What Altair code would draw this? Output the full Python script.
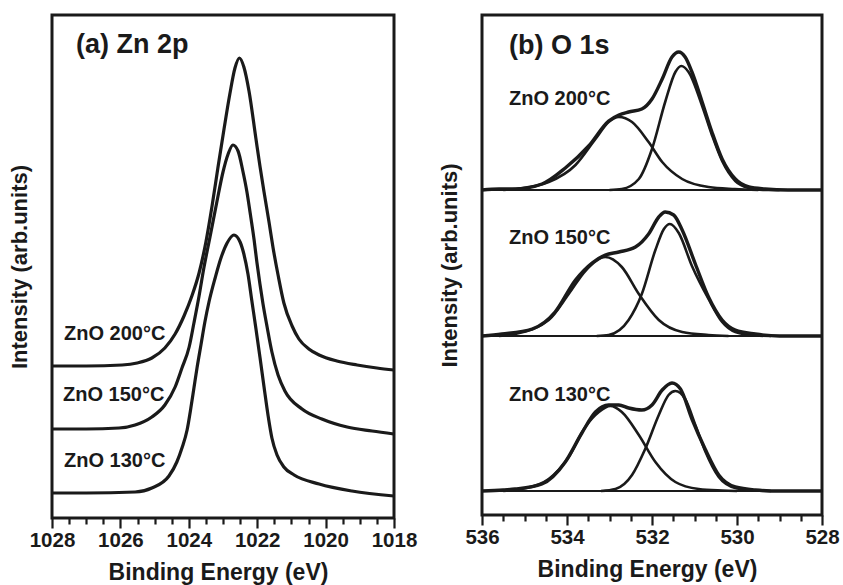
import altair as alt
import pandas as pd

# ---------------- Zn 2p spectra (binding energy eV, intensity arb. units, stacked) ----------------
zn200_E = [1028.0, 1027.0, 1025.95, 1025.51, 1025.08, 1024.70, 1024.40, 1024.14, 1023.91, 1023.70,
           1023.50, 1023.32, 1023.15, 1022.97, 1022.80, 1022.65, 1022.52, 1022.39, 1022.24, 1022.04,
           1021.92, 1021.80, 1021.65, 1021.54, 1021.39, 1021.22, 1020.98, 1020.78, 1020.49, 1020.19,
           1019.67, 1019.08, 1018.50, 1018.0]
zn200_I = [152, 152, 153, 155, 160, 170, 184, 202, 222, 245,
           276, 312, 350, 389, 424, 450, 460, 451, 427, 380,
           352, 326, 295, 271, 243, 215, 192, 179, 169, 163,
           157, 153, 150, 148]

zn150_E = [1028.0, 1027.0, 1026.04, 1025.57, 1025.08, 1024.70, 1024.40, 1024.20, 1023.99, 1023.85,
           1023.70, 1023.56, 1023.38, 1023.18, 1023.00, 1022.85, 1022.71, 1022.56, 1022.42, 1022.30,
           1022.21, 1022.09, 1022.01, 1021.92, 1021.83, 1021.71, 1021.57, 1021.39, 1021.19, 1020.69,
           1020.11, 1019.37, 1018.64, 1018.0]
zn150_I = [89, 89, 90, 93, 101, 113, 131, 150, 171, 195,
           222, 250, 281, 316, 346, 364, 373, 367, 347, 326,
           306, 278, 256, 234, 214, 191, 166, 143, 127, 109,
           99, 91, 87, 84]

zn130_E = [1028.0, 1027.0, 1025.57, 1025.08, 1024.58, 1024.35, 1024.20, 1024.05, 1023.94, 1023.85,
           1023.76, 1023.64, 1023.53, 1023.41, 1023.23, 1023.06, 1022.88, 1022.68, 1022.50, 1022.39,
           1022.27, 1022.16, 1022.04, 1021.92, 1021.80, 1021.68, 1021.57, 1021.42, 1021.22, 1020.92,
           1020.19, 1019.23, 1018.0]
zn130_I = [25, 25, 26, 30, 42, 56, 70, 88, 110, 130,
           150, 174, 196, 216, 240, 260, 275, 283, 276, 264,
           244, 218, 190, 161, 131, 102, 80, 63, 51, 43,
           34, 27, 22]

# ---------------- O 1s spectra: measured envelope and two fitted components ----------------
o200_tot_E = [536.0, 535.6, 535.22, 534.59, 534.04, 533.49, 533.02, 532.78, 532.55, 532.24, 532.0,
              531.76, 531.53, 531.37, 531.22, 531.06, 530.82, 530.59, 530.35, 530.04, 529.72,
              529.34, 528.8, 528.0]
o200_tot_I = [325, 326, 326, 331, 347, 369, 394, 400, 403, 406, 416,
              436, 458, 463, 458, 443, 413, 383, 356, 336, 328,
              326, 325, 325]
o200_c1_E = [535.5, 535.22, 534.43, 533.80, 533.33, 533.02, 532.78, 532.47, 532.08, 531.76,
             531.29, 530.67, 530.05, 529.5]
o200_c1_I = [325, 326, 333, 350, 376, 393, 398, 393, 373, 353,
             336, 328, 326, 325]
o200_c2_E = [533.0, 532.71, 532.31, 532.0, 531.69, 531.45, 531.31, 531.14, 530.82, 530.59,
             530.35, 530.04, 529.72, 529.39, 529.0]
o200_c2_I = [325, 326, 336, 366, 413, 443, 449, 443, 409, 380,
             354, 334, 327, 325, 325]

o150_tot_E = [536.0, 535.53, 534.82, 534.28, 533.80, 533.41, 533.10, 532.78, 532.39, 532.08,
              531.84, 531.69, 531.49, 531.29, 530.98, 530.67, 530.35, 530.04, 529.57, 529.0, 528.0]
o150_tot_I = [179, 181, 186, 203, 235, 252, 260, 263, 268, 281,
              298, 303, 300, 285, 251, 218, 195, 185, 181, 179, 179]
o150_c1_E = [535.6, 535.22, 534.43, 533.96, 533.57, 533.10, 532.71, 532.31, 531.84, 531.29,
             530.67, 530.2]
o150_c1_I = [179, 181, 195, 221, 244, 258, 248, 221, 195, 183,
             180, 179]
o150_c2_E = [533.3, 533.02, 532.55, 532.24, 531.92, 531.72, 531.58, 531.37, 531.06, 530.67,
             530.35, 530.04, 529.57, 529.2]
o150_c2_I = [179, 180, 195, 221, 265, 286, 291, 282, 249, 216,
             193, 183, 179.5, 179]

o130_tot_E = [536.0, 535.5, 535.22, 534.59, 534.04, 533.65, 533.33, 533.02, 532.78, 532.55,
              532.24, 532.0, 531.76, 531.53, 531.33, 531.06, 530.75, 530.43, 530.04, 529.57,
              529.0, 528.0]
o130_tot_I = [24, 25, 26, 31, 53, 82, 103, 110, 110, 107,
              105, 110, 125, 132, 126, 96, 66, 40, 28, 25,
              24, 24]
o130_c1_E = [535.5, 535.06, 534.43, 533.96, 533.57, 533.25, 532.98, 532.71, 532.31, 531.92,
             531.45, 530.90, 530.35, 530.0]
o130_c1_I = [24, 26, 36, 58, 88, 103, 109, 103, 80, 53,
             33, 26, 24.5, 24]
o130_c2_E = [533.2, 532.86, 532.47, 532.16, 531.84, 531.61, 531.45, 531.22, 530.98, 530.75,
             530.43, 530.04, 529.57, 529.2]
o130_c2_I = [24, 26, 40, 66, 100, 120, 124, 116, 90, 64,
             38, 27, 24.5, 24]

# fitted background levels of the O 1s spectra (arb. units)
o_background = [325, 179, 24]

sample_labels = ["ZnO 200°C", "ZnO 150°C", "ZnO 130°C"]
panel_titles = ["(a) Zn 2p", "(b) O 1s"]
x_title = "Binding Energy (eV)"
y_title = "Intensity (arb.units)"

# ---------------- build tables ----------------
def table(E, I, name, kind):
    return pd.DataFrame({"E": E, "I": I, "series": name, "kind": kind})

zn_df = pd.concat([
    table(zn200_E, zn200_I, "zn200", "total"),
    table(zn150_E, zn150_I, "zn150", "total"),
    table(zn130_E, zn130_I, "zn130", "total"),
], ignore_index=True)

o_tot = pd.concat([
    table(o200_tot_E, o200_tot_I, "o200", "total"),
    table(o150_tot_E, o150_tot_I, "o150", "total"),
    table(o130_tot_E, o130_tot_I, "o130", "total"),
], ignore_index=True)
o_comp = pd.concat([
    table(o200_c1_E, o200_c1_I, "o200c1", "comp"),
    table(o200_c2_E, o200_c2_I, "o200c2", "comp"),
    table(o150_c1_E, o150_c1_I, "o150c1", "comp"),
    table(o150_c2_E, o150_c2_I, "o150c2", "comp"),
    table(o130_c1_E, o130_c1_I, "o130c1", "comp"),
    table(o130_c2_E, o130_c2_I, "o130c2", "comp"),
], ignore_index=True)
o_bg = pd.DataFrame({"E0": 536.0, "E1": 528.0, "I": o_background})

# ---------------- styling ----------------
FONT = "Liberation Sans"
INK = "#1a1a1a"


def x_enc(lo, hi, width, field="E"):
    ticks = [lo + 0.5 * k for k in range(int((hi - lo) * 2) + 1)]
    return alt.X(
        f"{field}:Q",
        scale=alt.Scale(domain=[hi, lo], nice=False, zero=False),
        axis=alt.Axis(
            title=x_title, values=ticks,
            labelExpr="datum.value % 2 === 0 ? format(datum.value, 'd') : ''",
            labelOverlap=False, labelFlush=False, labelFont=FONT, labelFontSize=20.5,
            labelFontWeight="bold", labelColor=INK, labelPadding=2,
            tickSize={"condition": {"test": "datum.value % 2 === 0", "value": 10}, "value": 6},
            tickColor=INK, tickWidth=2.2, domain=False, grid=False,
            titleFont=FONT, titleFontSize=23, titleFontWeight="bold", titleColor=INK,
            titlePadding=11, titleX=width / 2 - 5,
        ),
    )


def y_enc(top):
    return alt.Y(
        "I:Q",
        scale=alt.Scale(domain=[0, top], nice=False, zero=False),
        axis=alt.Axis(title=y_title, labels=False, ticks=False, domain=False, grid=False,
                      titleFont=FONT, titleFontSize=22, titleFontWeight="bold",
                      titleColor=INK, titlePadding=21),
    )


def text_layer(label, px, py, size):
    return alt.Chart(pd.DataFrame({"t": [label]})).mark_text(
        font=FONT, fontSize=size, fontWeight="bold", color=INK, align="left", baseline="middle"
    ).encode(x=alt.value(px), y=alt.value(py), text="t:N")


# ---------------- panel (a) ----------------
W_A, H_A = 342, 503
zn_lines = alt.Chart(zn_df).mark_line(color=INK, strokeWidth=3.2, interpolate="monotone").encode(
    x=x_enc(1018, 1028, W_A), y=y_enc(503), detail="series:N",
    order=alt.Order("E:Q", sort="descending"),
)
panel_a = alt.layer(
    zn_lines,
    text_layer(panel_titles[0], 24, 30, 27),
    text_layer(sample_labels[0], 12, 319, 20),
    text_layer(sample_labels[1], 11, 380, 20),
    text_layer(sample_labels[2], 12, 446, 20),
).properties(width=W_A, height=H_A)

# ---------------- panel (b) ----------------
W_B, H_B = 340, 500
o_bg_rules = alt.Chart(o_bg).mark_rule(color=INK, strokeWidth=2.2).encode(
    x=x_enc(528, 536, W_B, "E0"), x2="E1:Q", y=y_enc(500)
)
o_comp_lines = alt.Chart(o_comp).mark_line(color=INK, strokeWidth=2.6, interpolate="monotone").encode(
    x=x_enc(528, 536, W_B), y=y_enc(500), detail="series:N",
    order=alt.Order("E:Q", sort="descending"),
)
o_tot_lines = alt.Chart(o_tot).mark_line(color=INK, strokeWidth=3.4, interpolate="monotone").encode(
    x=x_enc(528, 536, W_B), y=y_enc(500), detail="series:N",
    order=alt.Order("E:Q", sort="descending"),
)
panel_b = alt.layer(
    o_bg_rules, o_comp_lines, o_tot_lines,
    text_layer(panel_titles[1], 27, 31, 27),
    text_layer(sample_labels[0], 27, 84, 20),
    text_layer(sample_labels[1], 27, 223, 20),
    text_layer(sample_labels[2], 27, 380, 20),
).properties(width=W_B, height=H_B)

chart = alt.hconcat(panel_a, panel_b, spacing=17).properties(
    padding={"left": 6, "top": 13, "right": 0, "bottom": 0},
    background="white",
).configure_view(stroke=INK, strokeWidth=3)

chart.save("out.html", embed_options={"renderer": "svg", "actions": False})
